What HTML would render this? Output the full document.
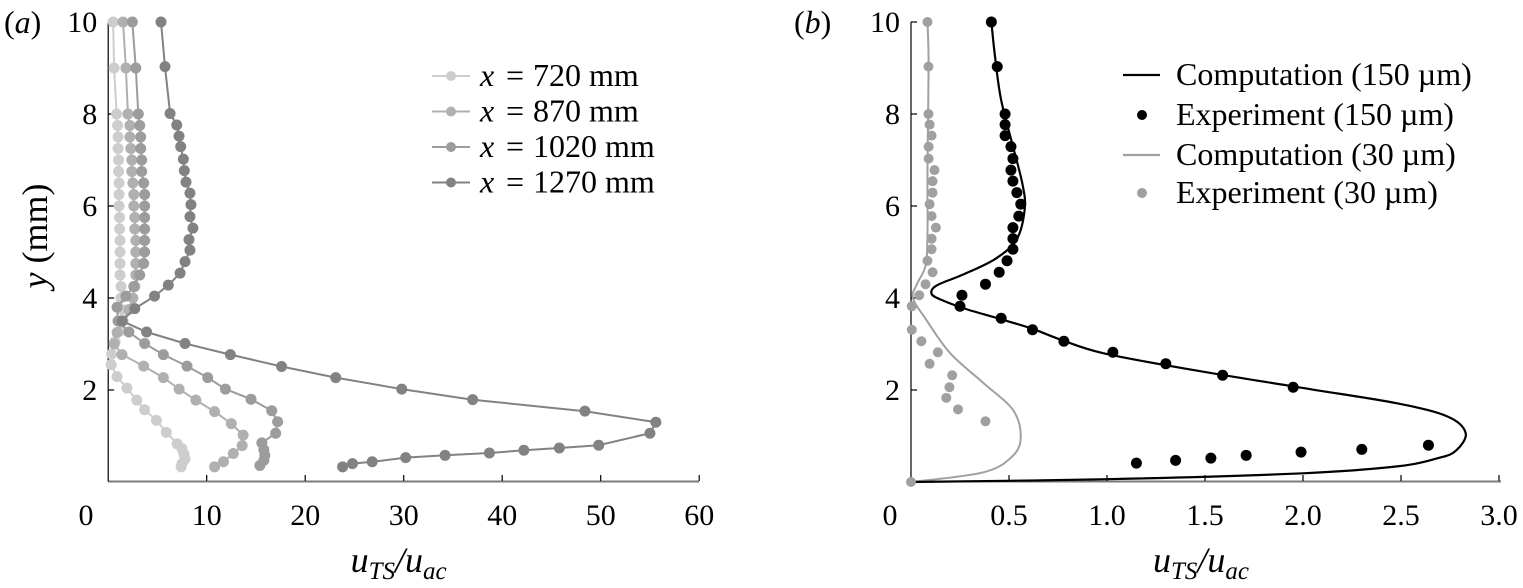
<!DOCTYPE html>
<html><head><meta charset="utf-8">
<style>
html,body{margin:0;padding:0;background:#fff;}
svg{display:block;font-family:"Liberation Serif",serif;}
</style></head>
<body>
<svg id="chart" width="1523" height="588" viewBox="0 0 1523 588"></svg>
<script>
// ---------- Panel (a) data ----------
const aLabels = ["x = 720 mm","x = 870 mm","x = 1020 mm","x = 1270 mm"];
const aColors = ["#cdcdcd","#b0b0b0","#9c9c9c","#828282"];
const s720Y = [10,9,8,7.75,7.5,7.25,7,6.75,6.5,6.25,6,5.75,5.5,5.25,5,4.75,4.5,4.25,4,3.75,3.5,3.28,3.05,2.78,2.55,2.29,2.04,1.78,1.57,1.34,1.08,0.83,0.72,0.6,0.5,0.4,0.33];
const s720U = [0.5,0.6,0.85,0.95,1.0,1.0,1.05,1.05,1.1,1.1,1.1,1.15,1.15,1.2,1.2,1.2,1.2,1.3,1.3,1.4,1.3,1.2,0.7,0.35,0.3,0.9,1.9,2.9,3.7,4.9,5.9,7.0,7.5,7.7,7.8,7.5,7.4];
const s870Y = [10,9,8,7.75,7.5,7.25,7,6.75,6.5,6.25,6,5.75,5.5,5.25,5,4.75,4.5,4.25,4,3.75,3.5,3.25,3.0,2.77,2.52,2.27,2.02,1.78,1.53,1.27,1.02,0.79,0.62,0.44,0.33];
const s870U = [1.5,1.8,2.0,2.2,2.2,2.3,2.4,2.4,2.5,2.6,2.6,2.7,2.7,2.8,2.8,2.8,2.8,2.7,2.5,2.1,1.5,0.9,0.6,1.4,3.6,5.6,7.2,8.9,10.8,12.5,13.7,13.6,12.7,11.7,10.8];
const s1020Y = [10,9,8,7.75,7.5,7.25,7,6.75,6.5,6.25,6,5.75,5.5,5.25,5,4.75,4.5,4.25,4.04,3.8,3.5,3.26,3.01,2.77,2.52,2.27,2.02,1.8,1.55,1.31,1.06,0.85,0.7,0.58,0.47,0.36];
const s1020U = [2.45,2.8,3.06,3.2,3.3,3.3,3.4,3.4,3.6,3.7,3.7,3.7,3.7,3.7,3.7,3.6,3.2,2.6,1.8,0.9,1.0,2.1,3.7,5.6,8.0,10.1,11.9,14.5,16.6,17.2,17.0,15.6,15.8,15.9,15.8,15.4];
const s1270Y = [10,9.03,8.01,7.76,7.52,7.29,7.02,6.77,6.52,6.28,6.03,5.77,5.52,5.27,5.04,4.79,4.54,4.28,4.04,3.77,3.5,3.26,3.01,2.77,2.51,2.27,2.02,1.79,1.54,1.3,1.06,0.8,0.74,0.69,0.63,0.58,0.53,0.44,0.4,0.33];
const s1270U = [5.36,5.77,6.28,6.96,7.19,7.36,7.63,7.73,7.9,8.3,8.4,8.3,8.6,8.2,8.3,7.8,7.3,6.1,4.7,2.7,1.4,3.9,7.8,12.4,17.6,23.1,29.8,37.0,48.4,55.6,55.0,49.8,45.8,42.2,38.7,34.2,30.2,26.8,24.8,23.8];
const aXTicks = [10,20,30,40,50,60];
const yTicks = [2,4,6,8,10];

// ---------- Panel (b) data ----------
const bLegend = ["Computation (150 \u00b5m)","Experiment (150 \u00b5m)","Computation (30 \u00b5m)","Experiment (30 \u00b5m)"];
const exp150Y = [10,9.03,8.0,7.77,7.53,7.29,7.03,6.78,6.54,6.29,6.04,5.78,5.53,5.29,5.06,4.81,4.56,4.30,4.06,3.82,3.56,3.31,3.06,2.82,2.57,2.32,2.06,0.80,0.71,0.65,0.58,0.52,0.47,0.41];
const exp150U = [0.41,0.44,0.48,0.48,0.48,0.51,0.52,0.51,0.52,0.54,0.56,0.55,0.52,0.52,0.52,0.49,0.45,0.38,0.26,0.25,0.46,0.62,0.78,1.03,1.30,1.59,1.95,2.64,2.30,1.99,1.71,1.53,1.35,1.15];
const exp30Y = [10,9.03,8.0,7.77,7.53,7.29,7.03,6.78,6.54,6.29,6.04,5.78,5.53,5.29,5.06,4.81,4.56,4.30,4.06,3.82,3.31,3.06,2.82,2.57,2.32,2.06,1.83,1.58,1.32,0];
const exp30U = [0.084,0.089,0.089,0.095,0.105,0.09,0.09,0.12,0.11,0.11,0.095,0.105,0.127,0.105,0.105,0.084,0.11,0.074,0.042,0.004,0.004,0.053,0.137,0.095,0.21,0.196,0.18,0.24,0.38,0];
const comp150Y = [0,0.06,0.19,0.34,0.52,0.68,1.06,1.42,1.71,2.05,2.45,2.8,3.1,3.33,3.55,3.76,3.95,4.09,4.27,4.5,4.85,5.28,5.93,6.45,7.3,8.3,9.2,10];
const comp150U = [0,1.0,2.0,2.48,2.69,2.78,2.83,2.74,2.48,1.99,1.42,0.98,0.76,0.62,0.45,0.28,0.16,0.105,0.13,0.26,0.43,0.54,0.58,0.57,0.52,0.46,0.43,0.41];
const comp30Y = [0,0.21,0.57,1.0,1.57,2.15,2.8,3.55,4.0,4.3,4.7,5.4,6.86,9.03,10];
const comp30U = [0,0.37,0.52,0.56,0.52,0.37,0.2,0.074,0.01,0.03,0.074,0.084,0.084,0.09,0.084];
const bXTicks = [0.5,1.0,1.5,2.0,2.5,3.0];

const NS = "http://www.w3.org/2000/svg";
const svg = document.getElementById("chart");
function el(tag, attrs, parent){
  const e = document.createElementNS(NS, tag);
  for (const k in attrs) e.setAttribute(k, attrs[k]);
  (parent||svg).appendChild(e);
  return e;
}
const yPx = v => 482 - 46*v;
const axA = v => 108.2 + 9.85*v;
const axB = v => 911 + 196*v;

function panel(gName, x0, x1, xFn, xTicks, fmt, zeroX, letter, letterX){
  const g = el("g", {});
  
  
  const xa = el("line", {x1:x0, y1:481.5, x2:x1, y2:481.5, stroke:"#7a7a7a", "stroke-width":2}, g);
  
  
  const ya = el("line", {x1:x0, y1:481.5, x2:x0, y2:yPx(10), stroke:"#000", "stroke-width":1.2}, g);
  
  
  xTicks.forEach(t => {
    const x = xFn(t);
    const tk = el("line", {x1:x, y1:481, x2:x, y2:475, stroke:"#000", "stroke-width":1.2}, g);
    
    
    const tl = el("text", {x:x, y:525, "text-anchor":"middle", "font-size":30}, g);
    tl.textContent = fmt(t);
    
    
  });
  const z = el("text", {x:zeroX, y:525, "text-anchor":"middle", "font-size":30}, g);
  z.textContent = "0";
  
  
  yTicks.forEach(t => {
    const y = yPx(t);
    const tk = el("line", {x1:x0, y1:y, x2:x0+6, y2:y, stroke:"#000", "stroke-width":1.2}, g);
    
    
    const tl = el("text", {x:x0-11, y:y+10, "text-anchor":"end", "font-size":30}, g);
    tl.textContent = String(t);
    
    
  });
  const xt = el("text", {x:(x0+x1)/2 - 5, y:572, "text-anchor":"middle", "font-size":36, "font-style":"italic"}, g);
  xt.innerHTML = 'u<tspan font-size="25" dy="7">TS</tspan><tspan dy="-7">/u</tspan><tspan font-size="25" dy="7">ac</tspan>';
  
  
  const pl = el("text", {x:letterX, y:33, "font-size":32}, g);
  pl.innerHTML = '(<tspan font-style="italic">' + letter + '</tspan>)';
  
  
  return g;
}

const gA = panel("panel-a", 108.2, 699, axA, aXTicks, t => String(t), 86, "a", 4);
const gB = panel("panel-b", 911, 1501, axB, bXTicks, t => t.toFixed(1), 890, "b", 794);

const yt = el("text", {x:0, y:0, "text-anchor":"middle", "font-size":36, transform:"translate(47,236) rotate(-90)"});
yt.innerHTML = '<tspan font-style="italic">y</tspan> (mm)';



const aSeries = [[s720U,s720Y],[s870U,s870Y],[s1020U,s1020Y],[s1270U,s1270Y]];
aSeries.forEach((s, i) => {
  const g = el("g", {}, gA);
  
  
  const pts = s[0].map((u, k) => axA(u).toFixed(1) + "," + yPx(s[1][k]).toFixed(1)).join(" ");
  const pl = el("polyline", {points:pts, fill:"none", stroke:aColors[i], "stroke-width":2}, g);
  
  
  s[0].forEach((u, k) => {
    const c = el("circle", {cx:axA(u), cy:yPx(s[1][k]), r:5.5, fill:aColors[i]}, g);
    
    
  });
  const ly = 76 + i*35.5;
  const lg = el("g", {}, gA);
  
  
  el("line", {x1:432, y1:ly, x2:470, y2:ly, stroke:aColors[i], "stroke-width":2}, lg);
  el("circle", {cx:451, cy:ly, r:5, fill:aColors[i]}, lg);
  const parts = aLabels[i].split(" = ");
  const t1 = el("text", {x:480, y:ly+10, "font-size":32, "font-style":"italic"}, lg);
  t1.textContent = parts[0];
  const t2 = el("text", {x:506, y:ly+10, "font-size":32}, lg);
  t2.textContent = "=";
  const t3 = el("text", {x:533, y:ly+10, "font-size":32}, lg);
  t3.textContent = parts[1];
});

function smoothPath(us, ys){
  const P = us.map((u,k)=>[axB(u), yPx(ys[k])]);
  let d = "M" + P[0][0] + "," + P[0][1];
  for (let i=0;i<P.length-1;i++){
    const p0=P[Math.max(0,i-1)], p1=P[i], p2=P[i+1], p3=P[Math.min(P.length-1,i+2)];
    const c1=[p1[0]+(p2[0]-p0[0])/6, p1[1]+(p2[1]-p0[1])/6];
    const c2=[p2[0]-(p3[0]-p1[0])/6, p2[1]-(p3[1]-p1[1])/6];
    d += " C"+c1[0].toFixed(1)+","+c1[1].toFixed(1)+" "+c2[0].toFixed(1)+","+c2[1].toFixed(1)+" "+p2[0].toFixed(1)+","+p2[1].toFixed(1);
  }
  return d;
}
const c30 = el("path", {d:smoothPath(comp30U, comp30Y), fill:"none", stroke:"#a0a0a0", "stroke-width":2}, gB);


const c150 = el("path", {d:smoothPath(comp150U, comp150Y), fill:"none", stroke:"#000", "stroke-width":2.2}, gB);


exp30U.forEach((u,k) => {
  const c = el("circle", {cx:axB(u), cy:yPx(exp30Y[k]), r:5, fill:"#a0a0a0"}, gB);
  
  
});
exp150U.forEach((u,k) => {
  const c = el("circle", {cx:axB(u), cy:yPx(exp150Y[k]), r:5.5, fill:"#000"}, gB);
  
  
});
const bLy = [75, 115, 155, 193];
const bStyle = [["line","#000"],["dot","#000"],["line","#a0a0a0"],["dot","#a0a0a0"]];
bLegend.forEach((lab,i) => {
  const lg = el("g", {}, gB);
  
  
  const y = bLy[i];
  if (bStyle[i][0]==="line") el("line", {x1:1123, y1:y, x2:1160, y2:y, stroke:bStyle[i][1], "stroke-width":2.2}, lg);
  else el("circle", {cx:1142, cy:y, r:5, fill:bStyle[i][1]}, lg);
  const t = el("text", {x:1176, y:y+10, "font-size":32}, lg);
  t.textContent = lab;
});
</script>
</body></html>
